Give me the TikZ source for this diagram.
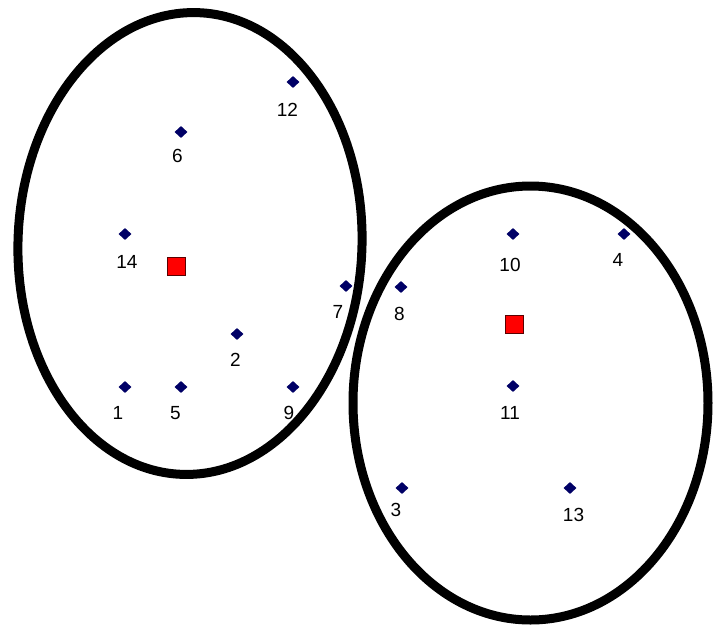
\documentclass[tikz,border=0pt]{standalone}
\usepackage{fontspec}
\setmainfont{Liberation Sans}
\usetikzlibrary{shapes.geometric}
\definecolor{ptnavy}{RGB}{0,0,102}
\definecolor{ctrred}{RGB}{255,0,0}
\definecolor{ctrrim}{RGB}{90,0,0}
\tikzset{
  cluster/.style={draw=black, line width=9pt},
  datapt/.style={shape=diamond, fill=ptnavy, inner sep=0pt,
                 minimum width=13pt, minimum height=12pt},
  centroid/.style={shape=rectangle, fill=ctrred, draw=ctrrim, line width=1pt,
                   inner sep=0pt, minimum size=18pt},
  ptlabel/.style={inner sep=0pt, anchor=center, font=\fontsize{19}{19}\selectfont}
}
\begin{document}
\begin{tikzpicture}[x=1pt, y=-1pt]
\useasboundingbox[fill=white] (0,0) rectangle (713,625);

% the two clusters
\draw[cluster, rotate around={-2:(190,243.5)}] (190,243.5) ellipse [x radius=172, y radius=231];
\draw[cluster] (530.5,403) ellipse [x radius=177.5, y radius=217];

% centroids
\node[centroid] (cA) at (176,266) {};
\node[centroid] (cB) at (514,324) {};

% data points of the left cluster
\node[datapt] (p12) at (293,82) {};
\node[datapt] (p6)  at (181,132) {};
\node[datapt] (p14) at (125,234) {};
\node[datapt] (p7)  at (346,286) {};
\node[datapt] (p2)  at (237,334) {};
\node[datapt] (p1)  at (125,387) {};
\node[datapt] (p5)  at (181,387) {};
\node[datapt] (p9)  at (293,387) {};

% data points of the right cluster
\node[datapt] (p10) at (513,234) {};
\node[datapt] (p4)  at (624,234) {};
\node[datapt] (p8)  at (401,287) {};
\node[datapt] (p11) at (513,386) {};
\node[datapt] (p3)  at (402,488) {};
\node[datapt] (p13) at (570,488) {};

% point numbers
\node[ptlabel] (l12) at (287.5,110) {12};
\node[ptlabel] (l6)  at (177.5,155.5) {6};
\node[ptlabel] (l14) at (127,262) {14};
\node[ptlabel] (l7)  at (338,312) {7};
\node[ptlabel] (l2)  at (235.5,359.5) {2};
\node[ptlabel] (l1)  at (118,413) {1};
\node[ptlabel] (l5)  at (175.5,413) {5};
\node[ptlabel] (l9)  at (289,413) {9};
\node[ptlabel] (l10) at (510,264.5) {10};
\node[ptlabel] (l4)  at (618,259.5) {4};
\node[ptlabel] (l8)  at (399.5,314) {8};
\node[ptlabel] (l11) at (510,412.5) {11};
\node[ptlabel] (l3)  at (396,510) {3};
\node[ptlabel] (l13) at (573.5,514.5) {13};
\end{tikzpicture}
\end{document}
